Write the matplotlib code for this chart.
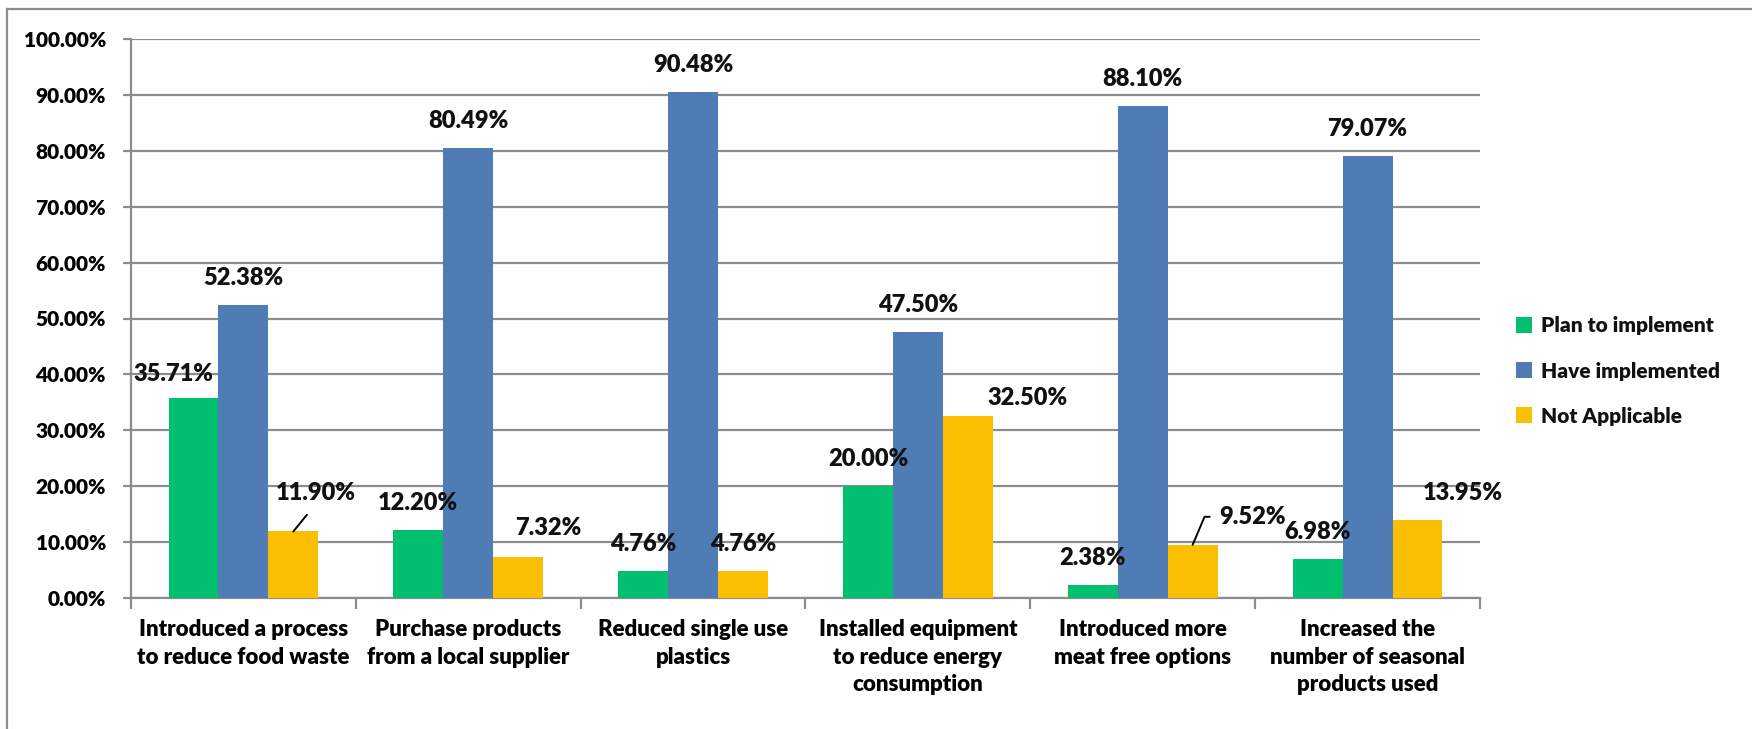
import numpy as np
import matplotlib.pyplot as plt
from matplotlib.lines import Line2D

plt.rcParams.update({
    "font.family": ["Lato", "DejaVu Sans"],
    "font.weight": "heavy",
    "font.size": 15,
    "text.color": "#111111",
})

# ---------------- dados ----------------
categorias = [
    "Introduced a process\nto reduce food waste",
    "Purchase products\nfrom a local supplier",
    "Reduced single use\nplastics",
    "Installed equipment\nto reduce energy\nconsumption",
    "Introduced more\nmeat free options",
    "Increased the\nnumber of seasonal\nproducts used",
]
series = ["Plan to implement", "Have implemented", "Not Applicable"]
plan = [35.71, 12.20, 4.76, 20.00, 2.38, 6.98]
have = [52.38, 80.49, 90.48, 47.50, 88.10, 79.07]
not_app = [11.90, 7.32, 4.76, 32.50, 9.52, 13.95]

cores = ["#00BF6F", "#4F7CB5", "#F9BF00"]

# deslocamentos manuais dos rótulos (pixels): (serie, categoria) -> (dx, dy)
px = 0.72
rotulo_padrao = (0, 27)
rotulo_ajuste = {
    (0, 0): (-20, 24),
    (2, 0): (22, 38),
    (2, 1): (30, 29),
    (2, 3): (60, 18),
    (2, 4): (60, 28),
    (2, 5): (45, 27),
}

W, H = 1752, 729
fig = plt.figure(figsize=(W / 100, H / 100), dpi=100)
ax = fig.add_axes([131 / W, 1 - 598 / H, (1480 - 131) / W, (598 - 39) / H])

x = np.arange(len(categorias))
largura = 0.222
grade = "#8C8C8C"

barras = []
for i, (vals, cor, nome) in enumerate(zip([plan, have, not_app], cores, series)):
    b = ax.bar(x + (i - 1) * largura, vals, largura, color=cor, label=nome, zorder=3)
    barras.append(b)
    for j, v in enumerate(vals):
        dx, dy = rotulo_ajuste.get((i, j), rotulo_padrao)
        xc = x[j] + (i - 1) * largura
        kw = {}
        if (i, j) == (2, 0):
            kw["arrowprops"] = dict(arrowstyle="-", color="black", lw=1.4,
                                    shrinkA=7, shrinkB=0, relpos=(0.5, 0))
        if (i, j) == (2, 4):
            kw["arrowprops"] = dict(arrowstyle="-", color="black", lw=1.4,
                                    shrinkA=5, shrinkB=0, relpos=(0, 0.5),
                                    connectionstyle="angle,angleA=0,angleB=67,rad=0")
        ax.annotate(f"{v:.2f}%", xy=(xc, v), xytext=(dx * px, dy * px),
                    textcoords="offset points", ha="center", va="center",
                    fontsize=17, fontweight="heavy", zorder=5, **kw)

ax.set_xlim(-0.5, len(categorias) - 0.5)
ax.set_ylim(0, 100)
ax.set_yticks(np.arange(0, 101, 10))
ax.set_yticklabels([f"{t:.2f}%" for t in np.arange(0, 101, 10)])
ax.yaxis.grid(True, color=grade, lw=1.6, zorder=0)

ax.set_xticks(np.arange(-0.5, len(categorias), 1.0))
ax.set_xticklabels([])
ax.set_xticks(x, minor=True)
ax.set_xticklabels(categorias, minor=True, fontsize=16, linespacing=1.4, va="top")
ax.tick_params(axis="x", which="major", length=8 * px * 1.4, width=1.6, color=grade)
ax.tick_params(axis="x", which="minor", length=0, pad=15)
ax.tick_params(axis="y", length=6 * px * 1.4, width=1.6, color=grade, pad=12, labelsize=15)

for s in ["top", "right"]:
    ax.spines[s].set_visible(False)
for s in ["left", "bottom"]:
    ax.spines[s].set_color(grade)
    ax.spines[s].set_linewidth(1.6)

leg = fig.legend(handles=barras, labels=series, loc="center left",
                 bbox_to_anchor=(1497 / W, 1 - 371 / H), frameon=False,
                 fontsize=15, handlelength=0.8, handleheight=0.8,
                 handletextpad=0.4, labelspacing=1.25)

# moldura da figura
fig.add_artist(Line2D([7 / W, 7 / W], [0, 1 - 9 / H], transform=fig.transFigure,
                      color=grade, lw=1.6))
fig.add_artist(Line2D([7 / W, 1], [1 - 9 / H, 1 - 9 / H], transform=fig.transFigure,
                      color=grade, lw=1.6))

fig.savefig("out.png", dpi=100)
